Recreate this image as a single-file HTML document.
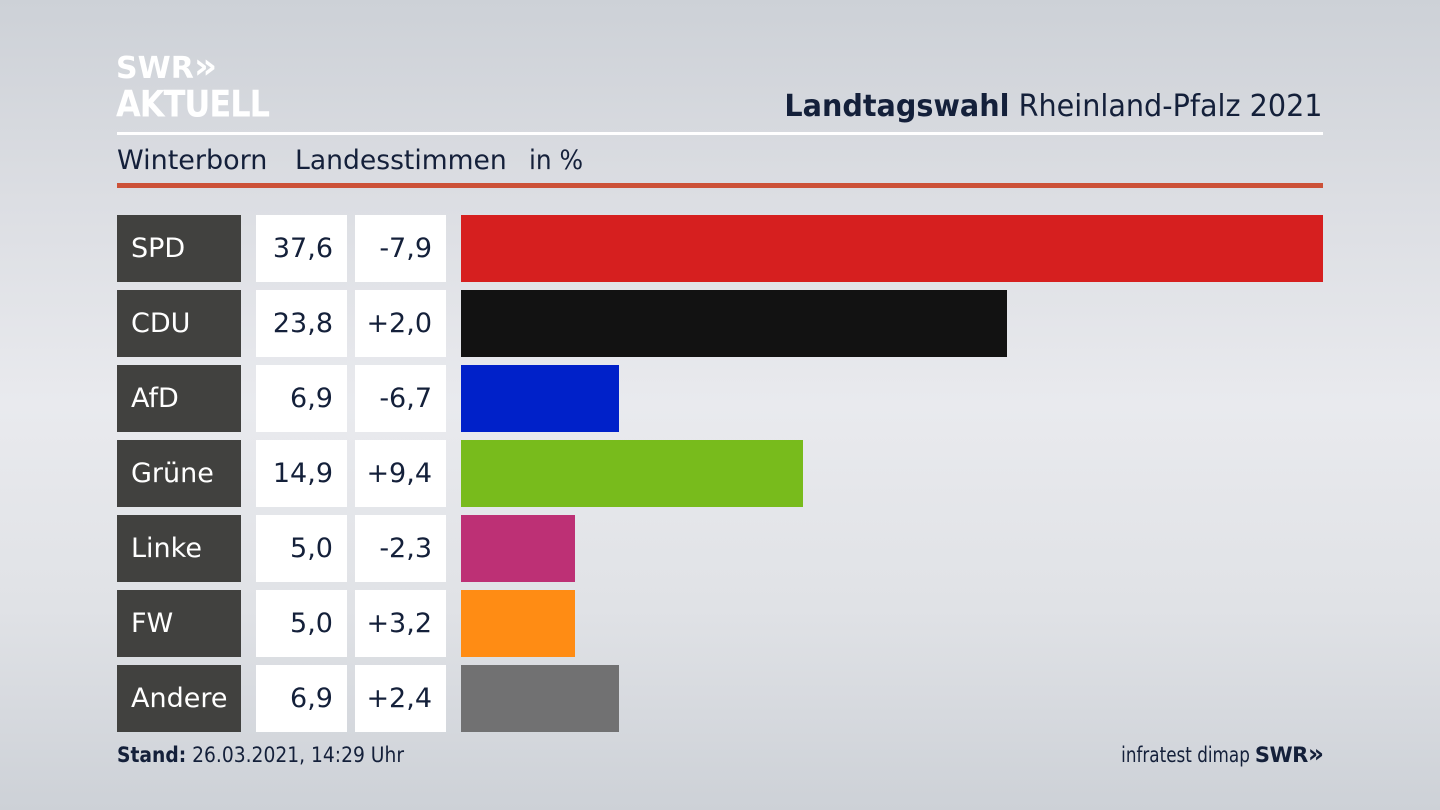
<!DOCTYPE html>
<html><head><meta charset="utf-8">
<style>
*{margin:0;padding:0;box-sizing:border-box}
html,body{width:1440px;height:810px;overflow:hidden}
body{position:relative;font-family:"DejaVu Sans","Liberation Sans",sans-serif;color:#14203a;
background:linear-gradient(to bottom,#cdd1d7 0%,#dcdee3 25%,#e9eaee 50%,#e0e2e6 75%,#cdd1d7 100%)}
.abs{position:absolute;white-space:nowrap}
.logo1{left:116px;top:49px;font-weight:bold;color:#fff;font-size:30px;line-height:36px;letter-spacing:0px}
.logo1 span{font-size:36px;letter-spacing:-2px}
.logo2{left:116px;top:82px;font-weight:bold;color:#fff;font-size:32px;line-height:38px;letter-spacing:-1px;transform:scaleY(1.15);transform-origin:left top}
.title{right:117px;top:88px;font-size:30px;line-height:38px;transform:scaleX(0.955);transform-origin:right center}
.wl{left:117px;top:132px;width:1206px;height:3px;background:#fff}
.sub{top:143px;font-size:27px;line-height:36px}
.rl{left:117px;top:183px;width:1206px;height:5px;background:#cc5138}
.lab{left:117px;width:124px;height:67px;background:#41413f;color:#fff;font-size:27px;line-height:67px;padding-left:14px}
.val{left:256px;width:91px;height:67px;background:#fff;font-size:27px;line-height:67px;text-align:right;padding-right:14px}
.chg{left:355px;width:91px;height:67px;background:#fff;font-size:27px;line-height:67px;text-align:right;padding-right:14px}
.bar{left:461px;height:67px}
.foot{left:117px;top:740px;font-size:21px;line-height:30px;transform:scaleX(0.89);transform-origin:left center}
.src{right:190px;top:740px;font-size:21px;line-height:30px;transform:scaleX(0.8);transform-origin:right center}
.swr{right:117px;top:739px;font-size:21px;line-height:30px;font-weight:bold;letter-spacing:-0.5px}
.swr span{font-size:25px;letter-spacing:-1px}
</style></head><body>
<div class="abs logo1">SWR<span>»</span></div>
<div class="abs logo2">AKTUELL</div>
<div class="abs title"><b>Landtagswahl</b> Rheinland-Pfalz 2021</div>
<div class="abs wl"></div>
<div class="abs sub" style="left:117px">Winterborn</div>
<div class="abs sub" style="left:295px;transform:scaleX(0.985);transform-origin:left center">Landesstimmen</div>
<div class="abs sub" style="left:529px;transform:scaleX(0.92);transform-origin:left center">in %</div>
<div class="abs rl"></div>

<div class="abs lab" style="top:215px">SPD</div>
<div class="abs val" style="top:215px">37,6</div>
<div class="abs chg" style="top:215px">-7,9</div>
<div class="abs bar" style="top:215px;width:862px;background:#d61f1f"></div>

<div class="abs lab" style="top:290px">CDU</div>
<div class="abs val" style="top:290px">23,8</div>
<div class="abs chg" style="top:290px">+2,0</div>
<div class="abs bar" style="top:290px;width:546px;background:#121212"></div>

<div class="abs lab" style="top:365px">AfD</div>
<div class="abs val" style="top:365px">6,9</div>
<div class="abs chg" style="top:365px">-6,7</div>
<div class="abs bar" style="top:365px;width:158px;background:#0021c9"></div>

<div class="abs lab" style="top:440px">Grüne</div>
<div class="abs val" style="top:440px">14,9</div>
<div class="abs chg" style="top:440px">+9,4</div>
<div class="abs bar" style="top:440px;width:342px;background:#78bb1c"></div>

<div class="abs lab" style="top:515px">Linke</div>
<div class="abs val" style="top:515px">5,0</div>
<div class="abs chg" style="top:515px">-2,3</div>
<div class="abs bar" style="top:515px;width:114px;background:#bd3075"></div>

<div class="abs lab" style="top:590px">FW</div>
<div class="abs val" style="top:590px">5,0</div>
<div class="abs chg" style="top:590px">+3,2</div>
<div class="abs bar" style="top:590px;width:114px;background:#ff8c14"></div>

<div class="abs lab" style="top:665px">Andere</div>
<div class="abs val" style="top:665px">6,9</div>
<div class="abs chg" style="top:665px">+2,4</div>
<div class="abs bar" style="top:665px;width:158px;background:#717172"></div>

<div class="abs foot"><b>Stand:</b> 26.03.2021, 14:29 Uhr</div>
<div class="abs src">infratest dimap</div>
<div class="abs swr">SWR<span>»</span></div>
</body></html>
